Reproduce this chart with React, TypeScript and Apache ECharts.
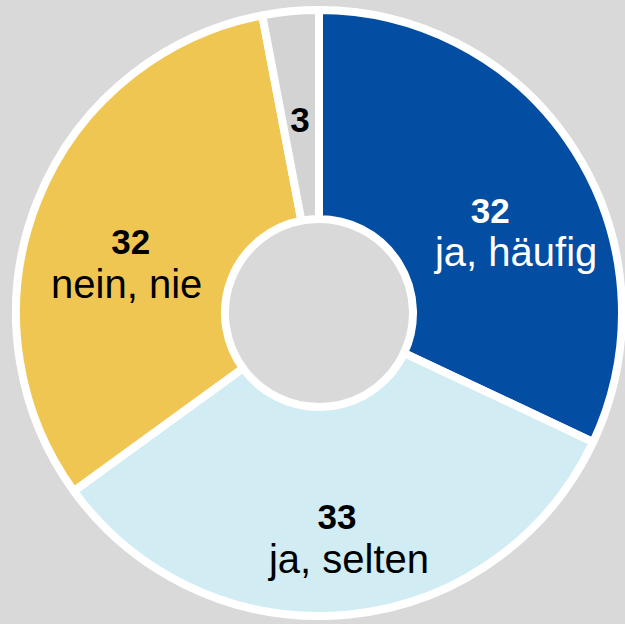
import React, { useEffect, useRef } from "react";
import * as echarts from "echarts";

const categories = ["ja, häufig", "ja, selten", "nein, nie", ""];
const values = [32, 33, 32, 3];
const colors = ["#034ea2", "#d1ecf3", "#f0c653", "#d3d3d3"];
const labelColors = ["#ffffff", "#000000", "#000000", "#000000"];
// per-slice label nudges (px) and horizontal shift between number and name lines
const labelShift = [
  [14, 27, 13],
  [5, 25, 6],
  [-3, 25, -2],
  [0, 7, 0],
];

export default function App() {
  const ref = useRef<HTMLDivElement>(null);
  useEffect(() => {
    if (!ref.current) return;
    const chart = echarts.init(ref.current, null, { renderer: "svg" });
    const data = values.map((v, i) => {
      const s = labelShift[i][2];
      const c = labelColors[i];
      return {
        value: v,
        name: categories[i],
        itemStyle: { color: colors[i] },
        label: {
          formatter: categories[i] ? "{v|{c}}\n{n|{b}}" : "{v|{c}}",
          rich: {
            v: {
              fontSize: 35,
              fontWeight: "bold",
              color: c,
              fontFamily: "Liberation Sans, Arial, sans-serif",
              lineHeight: 40,
              padding: s > 0 ? [0, 2 * s, 0, 0] : [0, 0, 0, -2 * s],
            },
            n: {
              fontSize: 40,
              color: c,
              fontFamily: "Liberation Sans, Arial, sans-serif",
              lineHeight: 44,
              padding: s > 0 ? [0, 0, 0, 2 * s] : [0, -2 * s, 0, 0],
            },
          },
        },
      };
    });
    chart.setOption({
      animation: false,
      backgroundColor: "#d9d9d9",
      series: [
        {
          type: "pie",
          center: [319, 313],
          radius: [94, 303],
          startAngle: 90,
          clockwise: true,
          avoidLabelOverlap: false,
          itemStyle: { borderColor: "#ffffff", borderWidth: 8 },
          label: { show: true, position: "inside", align: "center" },
          labelLine: { show: false },
          emphasis: { disabled: true },
          labelLayout: (p: any) => ({
            dx: labelShift[p.dataIndex][0],
            dy: labelShift[p.dataIndex][1],
          }),
          data,
        },
      ],
    });
    return () => chart.dispose();
  }, []);
  return (
    <div
      ref={ref}
      style={{ position: "fixed", left: 0, top: 0, width: 625, height: 624 }}
    />
  );
}
